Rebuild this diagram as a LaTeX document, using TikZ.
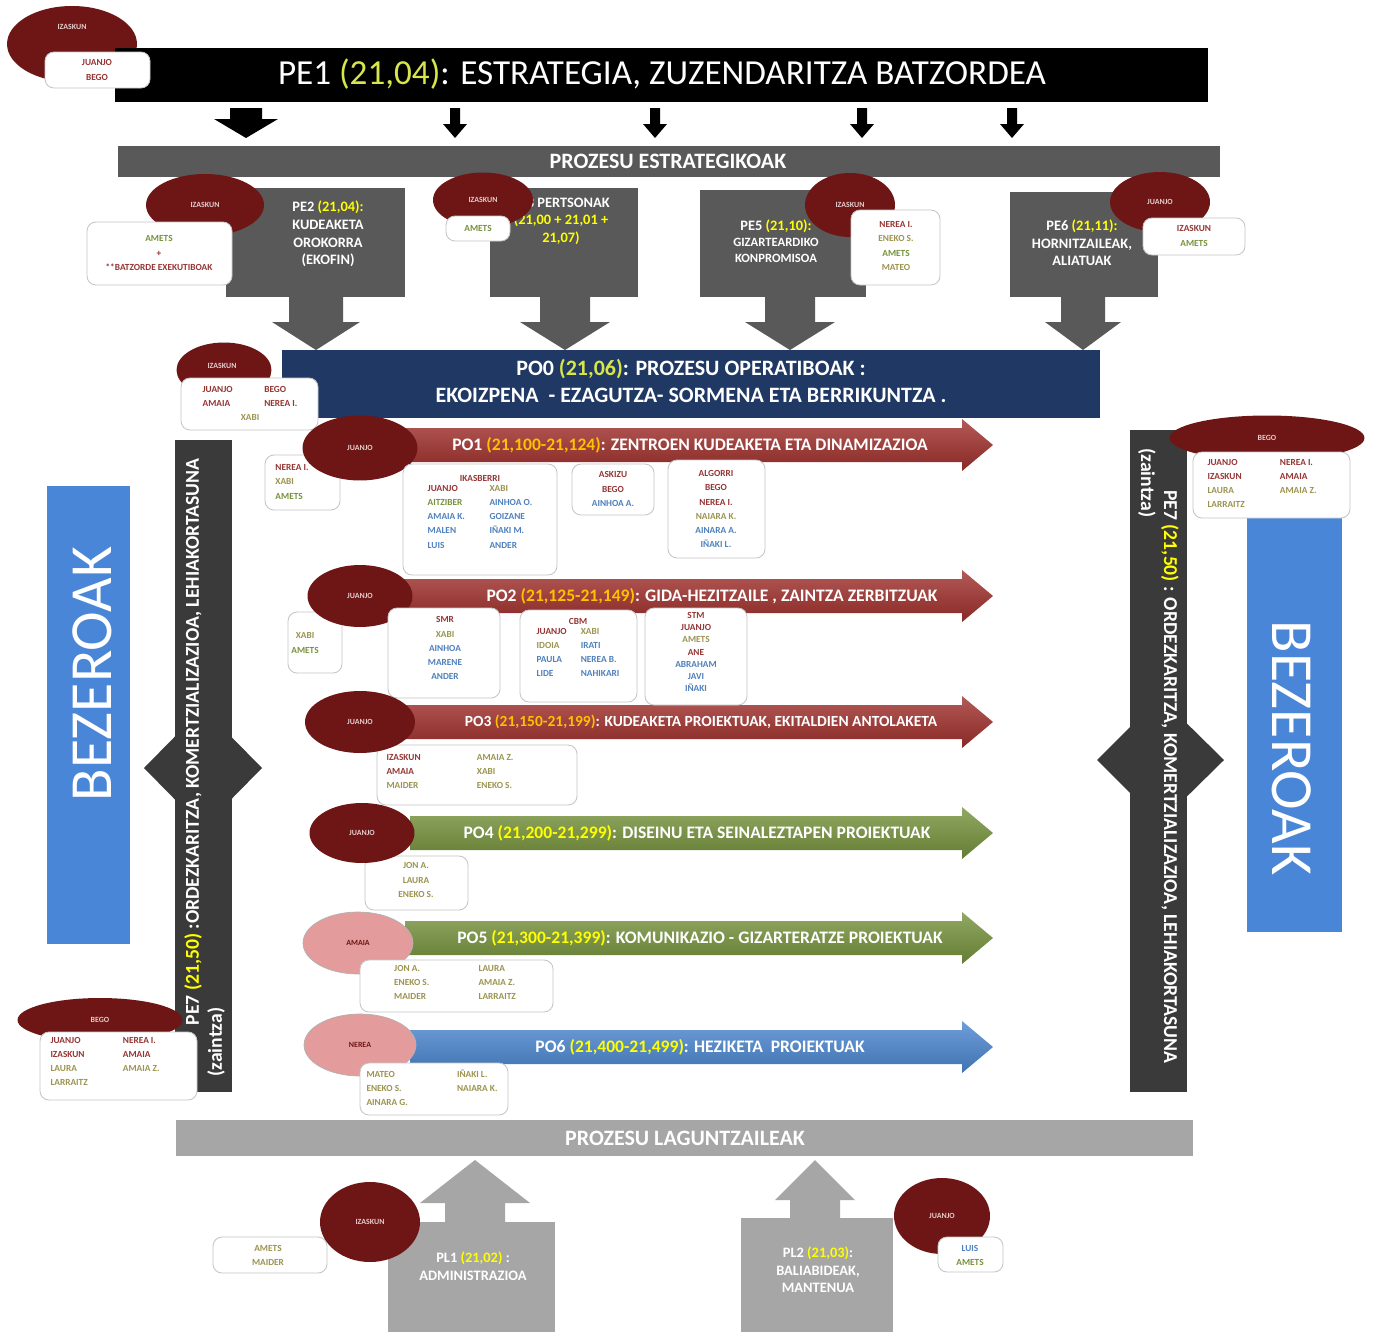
\documentclass[tikz,border=0pt]{standalone}
\usepackage{fontspec}
\setmainfont{Carlito}
\usepackage{tikz}
\usetikzlibrary{shapes,positioning,calc}
\usetikzlibrary{shapes.geometric}

\definecolor{cellred}{HTML}{6E1616}
\definecolor{cpink}{HTML}{E39B9B}
\definecolor{ctred}{HTML}{943634}
\definecolor{ctgreen}{HTML}{76923C}
\definecolor{ctolive}{HTML}{9C9450}
\definecolor{ctblue}{HTML}{4F81BD}
\definecolor{cgray}{HTML}{595959}
\definecolor{cside}{HTML}{3A3A3A}
\definecolor{cnavy}{HTML}{1F3864}
\definecolor{clight}{HTML}{A6A6A6}
\definecolor{cbez}{HTML}{4A86D8}
\definecolor{cyel}{HTML}{FFFF00}
\definecolor{cgold}{HTML}{FFC000}
\definecolor{cpe1}{HTML}{D8E64A}
\definecolor{carred}{HTML}{A0302C}
\definecolor{cargreen}{HTML}{76923C}
\definecolor{carblue}{HTML}{4A86D0}

\newcommand{\nred}[1]{\textcolor{ctred}{#1}}
\newcommand{\ngreen}[1]{\textcolor{ctgreen}{#1}}
\newcommand{\nolive}[1]{\textcolor{ctolive}{#1}}
\newcommand{\nblue}[1]{\textcolor{ctblue}{#1}}

\tikzstyle{redell} = [ellipse, fill=cellred, inner sep=0pt, text=white!75!ctred, font=\bfseries\fontsize{4.5}{5}\selectfont]
\tikzstyle{pinkell} = [ellipse, fill=cpink, draw=gray!60, inner sep=0pt, text=cellred, font=\bfseries\fontsize{4.5}{5}\selectfont]
\tikzstyle{elltext} = [inner sep=0pt, text=white!75!ctred, font=\bfseries\fontsize{4.5}{5}\selectfont]
\tikzstyle{namebox} = [draw=gray!45, fill=white, rounded corners=0.18cm, line width=0.5pt]
\tikzstyle{names} = [inner sep=0pt, align=center, font=\bfseries\fontsize{5.3}{8}\selectfont]
\tikzstyle{petext} = [text=white, align=center, font=\bfseries\fontsize{8.2}{10}\selectfont]
\tikzstyle{potext} = [text=white, font=\bfseries\fontsize{10}{12}\selectfont]
\tikzstyle{bartext} = [text=white, font=\bfseries\fontsize{12.5}{14}\selectfont]
\tikzstyle{sidetext} = [inner sep=0pt, text=white, font=\bfseries\fontsize{11.2}{13}\selectfont]
\tikzstyle{bez} = [inner sep=0pt, text=white, font=\fontsize{34}{40}\selectfont]

\begin{document}
\begin{tikzpicture}[x=0.02cm,y=-0.02cm]
\fill[white] (0,0) rectangle (1376,1332);
\useasboundingbox (0,0) rectangle (1376,1332);

% PE1
\node[redell, minimum width=2.6cm, minimum height=1.52cm] (ell0) at (72,44) {};
\node[elltext] (ell0t) at (72,27) {IZASKUN};
\fill[black] (115,48) rectangle (1208,102);
\node[text=white, font=\fontsize{20}{24}\selectfont] (pe1) at (662,74) {PE1 \textcolor{cpe1}{(21,04)}: ESTRATEGIA, ZUZENDARITZA BATZORDEA};
\draw[namebox] (45,52) rectangle (150,88);
\node[names] (pe1n) at (97,70) {\nred{JUANJO}\\\nred{BEGO}};

\fill[black] (230,108) rectangle (262,119) (214,119) -- (278,119) -- (246,138) -- cycle;
\foreach \ax in {455,655,862,1012}
  \fill[black] (\ax-5,108) rectangle (\ax+5,124) (\ax-12,124) -- (\ax+12,124) -- (\ax,138) -- cycle;

\fill[cgray] (118,146) rectangle (1220,177);
\node[bartext] (estr) at (668,161) {PROZESU ESTRATEGIKOAK};

% PE boxes
\fill[cgray] (226,188) rectangle (405,297);
\fill[cgray] (490,188) rectangle (638,297);
\fill[cgray] (700,190) rectangle (866,297);
\fill[cgray] (1010,192) rectangle (1158,297);
\foreach \cx/\sw/\hw in {316/27/44, 565/25/45, 790/25/45, 1083/22/38}
  \fill[cgray] (\cx-\sw,296) -- (\cx+\sw,296) -- (\cx+\sw,322) -- (\cx+\hw,322) -- (\cx,350) -- (\cx-\hw,322) -- (\cx-\sw,322) -- cycle;

\node[petext] (pe2) at (328,234) {PE2 \textcolor{cyel}{(21,04):}\\KUDEAKETA\\OROKORRA\\(EKOFIN)};
\node[redell, minimum width=2.36cm, minimum height=1.24cm] (pe2e) at (205,205) {IZASKUN};
\draw[namebox] (87,222) rectangle (232,285);
\node[names] (pe2n) at (159,253) {\ngreen{AMETS}\\\nred{+}\\\nred{**BATZORDE EXEKUTIBOAK}};

\node[petext] (pe3) at (561,221) {PE3 PERTSONAK\\\textcolor{cyel}{(21,00 + 21,01 +}\\\textcolor{cyel}{21,07)}};
\node[redell, minimum width=2.0cm, minimum height=1.1cm] (pe3e) at (483,200) {IZASKUN};
\draw[namebox] (446,216) rectangle (510,241);
\node[names] (pe3n) at (478,228) {\ngreen{AMETS}};

\node[petext, font=\bfseries\fontsize{7.2}{9}\selectfont] (pe5) at (776,241) {{\fontsize{8.2}{9}\selectfont PE5 \textcolor{cyel}{(21,10):}}\\GIZARTEARDIKO\\KONPROMISOA};
\node[redell, minimum width=1.8cm, minimum height=1.28cm] (pe5e) at (850,205) {IZASKUN};
\draw[namebox] (851,210) rectangle (940,285);
\node[names] (pe5n) at (896,246) {\nred{NEREA I.}\\\nolive{ENEKO S.}\\\ngreen{AMETS}\\\nolive{MATEO}};

\node[petext] (pe6) at (1082,243) {PE6 \textcolor{cyel}{(21,11):}\\HORNITZAILEAK,\\ALIATUAK};
\node[redell, minimum width=2.0cm, minimum height=1.2cm] (pe6e) at (1160,202) {JUANJO};
\draw[namebox] (1143,218) rectangle (1245,255);
\node[names] (pe6n) at (1194,236) {\nred{IZASKUN}\\\ngreen{AMETS}};

% PO0
\fill[cnavy] (282,350) rectangle (1100,418);
\node[text=white, align=center, font=\bfseries\fontsize{12.5}{15}\selectfont] (po0) at (691,381) {PO0 \textcolor{cpe1}{(21,06)}: PROZESU OPERATIBOAK :\\EKOIZPENA~~- EZAGUTZA- SORMENA ETA BERRIKUNTZA .};
\node[redell, minimum width=1.9cm, minimum height=1.1cm] (po0e) at (224,370) {};
\node[elltext] (po0t) at (222,366) {IZASKUN};
\draw[namebox] (181,378) rectangle (318,430);
\node[names] (po0n) at (250,404) {\begin{tabular}{@{}l@{\hspace{18pt}}l@{}}\nred{JUANJO} & \nred{BEGO}\\ \nred{AMAIA} & \nred{NEREA I.}\\ \multicolumn{2}{c}{\nolive{XABI}}\end{tabular}};

% side bars
\fill[cside] (203,708) -- (262,768) -- (203,828) -- (144,768) -- cycle;
\fill[cside] (175,440) rectangle (232,1092);
\node[sidetext, rotate=90, anchor=east] (pe7l) at (193,458) {PE7 \textcolor{cyel}{(21,50)} :ORDEZKARITZA, KOMERTZIALIZAZIOA, LEHIAKORTASUNA};
\node[sidetext, rotate=90, anchor=west] (pe7lz) at (216,1077) {(zaintza)};

\fill[cside] (1160,697) -- (1224,760) -- (1160,823) -- (1097,760) -- cycle;
\fill[cside] (1130,430) rectangle (1187,1092);
\node[sidetext, rotate=-90, anchor=west] (pe7r) at (1170,490) {PE7 \textcolor{cyel}{(21,50)} : ORDEZKARITZA, KOMERTZIALIZAZIOA, LEHIAKORTASUNA};
\node[sidetext, rotate=-90, anchor=west] (pe7rz) at (1147,448) {(zaintza)};

% bezeroak
\fill[cbez] (47,486) rectangle (130,944);
\node[bez, rotate=90] (bezl) at (92,674) {BEZEROAK};
\fill[cbez] (1247,505) rectangle (1342,932);
\node[bez, rotate=-90] (bezr) at (1292,748) {BEZEROAK};

\node[redell, minimum width=3.3cm, minimum height=0.88cm] (begol) at (100,1020) {BEGO};
\draw[namebox] (40,1032) rectangle (197,1100);
\node[names] (begoln) at (105,1062) {\begin{tabular}{@{}l@{\hspace{20pt}}l@{}}\nred{JUANJO} & \nred{NEREA I.}\\ \nred{IZASKUN} & \nred{AMAIA}\\ \nolive{LAURA} & \nolive{AMAIA Z.}\\ \nolive{LARRAITZ} & \end{tabular}};

\node[redell, minimum width=3.9cm, minimum height=0.9cm] (begor) at (1267,438) {BEGO};
\draw[namebox] (1193,452) rectangle (1350,518);
\node[names] (begorn) at (1262,484) {\begin{tabular}{@{}l@{\hspace{20pt}}l@{}}\nred{JUANJO} & \nred{NEREA I.}\\ \nred{IZASKUN} & \nred{AMAIA}\\ \nolive{LAURA} & \nolive{AMAIA Z.}\\ \nolive{LARRAITZ} & \end{tabular}};

% PO arrows
\foreach \yc/\xs/\col in {445/380/carred, 596/385/carred, 722/400/carred, 833/410/cargreen, 938/405/cargreen, 1047/410/carblue}
  \shade[top color=\col!80!white, bottom color=\col!85!black] (\xs,\yc-17) -- (962,\yc-17) -- (962,\yc-26) -- (993,\yc) -- (962,\yc+26) -- (962,\yc+17) -- (\xs,\yc+17) -- cycle;

\node[potext] (po1) at (690,445) {PO1 \textcolor{cgold}{(21,100-21,124)}: ZENTROEN KUDEAKETA ETA DINAMIZAZIOA};
\node[potext] (po2) at (712,596) {PO2 \textcolor{cgold}{(21,125-21,149)}: GIDA-HEZITZAILE , ZAINTZA ZERBITZUAK};
\node[potext, font=\bfseries\fontsize{8.8}{10}\selectfont] (po3) at (701,722) {PO3 \textcolor{cgold}{(21,150-21,199)}: KUDEAKETA PROIEKTUAK, EKITALDIEN ANTOLAKETA};
\node[potext] (po4) at (697,833) {PO4 \textcolor{cyel}{(21,200-21,299)}: DISEINU ETA SEINALEZTAPEN PROIEKTUAK};
\node[potext] (po5) at (700,938) {PO5 \textcolor{cyel}{(21,300-21,399)}: KOMUNIKAZIO - GIZARTERATZE PROIEKTUAK};
\node[potext] (po6) at (700,1047) {PO6 \textcolor{cyel}{(21,400-21,499)}: HEZIKETA~~PROIEKTUAK};

% PO1
\draw[namebox] (265,455) rectangle (340,510);
\node[names, align=left] (po1n) at (292,482) {\nred{NEREA I.}\\\nolive{XABI}\\\ngreen{AMETS}};
\node[redell, minimum width=2.3cm, minimum height=1.3cm] (po1e) at (360,448) {JUANJO};
\draw[namebox] (403,464) rectangle (557,575);
\node[names] (ikasberri) at (480,514) {\nred{IKASBERRI}\\[-1pt]\begin{tabular}{@{}l@{\hspace{14pt}}l@{}}\nred{JUANJO} & \nolive{XABI}\\ \ngreen{AITZIBER} & \nblue{AINHOA O.}\\ \nblue{AMAIA K.} & \nblue{GOIZANE}\\ \nblue{MALEN} & \nblue{IÑAKI M.}\\ \nblue{LUIS} & \nblue{ANDER}\end{tabular}};
\draw[namebox] (572,464) rectangle (654,515);
\node[names] (askizu) at (613,489) {\nred{ASKIZU}\\\nred{BEGO}\\\nblue{AINHOA A.}};
\draw[namebox] (668,460) rectangle (765,558);
\node[names] (algorri) at (716,509) {\nred{ALGORRI}\\\nred{BEGO}\\\nred{NEREA I.}\\\nolive{NAIARA K.}\\\nblue{AINARA A.}\\\nblue{IÑAKI L.}};

% PO2
\draw[namebox] (288,612) rectangle (342,673);
\node[names] (po2n) at (305,643) {\nolive{XABI}\\\ngreen{AMETS}};
\node[redell, minimum width=2.1cm, minimum height=1.24cm] (po2e) at (360,596) {JUANJO};
\draw[namebox] (388,608) rectangle (500,698);
\node[names] (smr) at (445,648) {\nred{SMR}\\\nolive{XABI}\\\nblue{AINHOA}\\\nblue{MARENE}\\\nblue{ANDER}};
\draw[namebox] (520,610) rectangle (637,702);
\node[names] (cbm) at (578,650) {\nred{CBM}\\[-1pt]\begin{tabular}{@{}l@{\hspace{8pt}}l@{}}\nred{JUANJO} & \nolive{XABI}\\ \nolive{IDOIA} & \nblue{IRATI}\\ \nblue{PAULA} & \nblue{NEREA B.}\\ \nblue{LIDE} & \nblue{NAHIKARI}\end{tabular}};
\draw[namebox] (645,608) rectangle (747,705);
\node[names, font=\bfseries\fontsize{5.3}{7}\selectfont] (stm) at (696,652) {\nred{STM}\\\nred{JUANJO}\\\nolive{AMETS}\\\nred{ANE}\\\nblue{ABRAHAM}\\\nblue{JAVI}\\\nblue{IÑAKI}};

% PO3
\draw[namebox] (377,745) rectangle (577,805);
\node[names] (po3n) at (450,772) {\begin{tabular}{@{}l@{\hspace{32pt}}l@{}}\nred{IZASKUN} & \nolive{AMAIA Z.}\\ \nred{AMAIA} & \nolive{XABI}\\ \nolive{MAIDER} & \nolive{ENEKO S.}\end{tabular}};
\node[redell, minimum width=2.2cm, minimum height=1.24cm] (po3e) at (360,722) {JUANJO};

% PO4
\draw[namebox] (365,856) rectangle (468,910);
\node[names] (po4n) at (416,880) {\nolive{JON A.}\\\nolive{LAURA}\\\nolive{ENEKO S.}};
\node[redell, minimum width=2.1cm, minimum height=1.2cm] (po4e) at (362,833) {JUANJO};

% PO5
\node[pinkell, minimum width=2.2cm, minimum height=1.24cm] (po5e) at (358,943) {AMAIA};
\draw[namebox] (360,960) rectangle (553,1012);
\node[names] (po5n) at (455,983) {\begin{tabular}{@{}l@{\hspace{28pt}}l@{}}\nolive{JON A.} & \nolive{LAURA}\\ \nolive{ENEKO S.} & \nolive{AMAIA Z.}\\ \nolive{MAIDER} & \nolive{LARRAITZ}\end{tabular}};

% PO6
\node[pinkell, minimum width=2.24cm, minimum height=1.24cm] (po6e) at (360,1045) {NEREA};
\draw[namebox] (360,1063) rectangle (508,1115);
\node[names] (po6n) at (432,1089) {\begin{tabular}{@{}l@{\hspace{28pt}}l@{}}\nolive{MATEO} & \nolive{IÑAKI L.}\\ \nolive{ENEKO S.} & \nolive{NAIARA K.}\\ \nolive{AINARA G.} & \end{tabular}};

% laguntzaileak
\fill[clight] (176,1120) rectangle (1193,1156);
\node[bartext] (lag) at (685,1138) {PROZESU LAGUNTZAILEAK};

\fill[clight] (388,1222) rectangle (555,1332);
\fill[clight] (445,1223) -- (445,1203) -- (420,1203) -- (475,1160) -- (530,1203) -- (505,1203) -- (505,1223) -- cycle;
\node[petext] (pl1) at (473,1266) {PL1 \textcolor{cyel}{(21,02)} :\\ADMINISTRAZIOA};
\draw[namebox] (213,1237) rectangle (327,1273);
\node[names] (pl1n) at (268,1255) {\nolive{AMETS}\\\nolive{MAIDER}};
\node[redell, minimum width=2.0cm, minimum height=1.6cm] (pl1e) at (370,1222) {IZASKUN};

\fill[clight] (741,1218) rectangle (893,1332);
\fill[clight] (790,1219) -- (790,1200) -- (775,1200) -- (815,1160) -- (855,1200) -- (840,1200) -- (840,1219) -- cycle;
\node[petext] (pl2) at (818,1270) {PL2 \textcolor{cyel}{(21,03)}:\\BALIABIDEAK,\\MANTENUA};
\node[redell, minimum width=1.92cm, minimum height=1.52cm] (pl2e) at (942,1216) {JUANJO};
\draw[namebox] (938,1237) rectangle (1003,1272);
\node[names] (pl2n) at (970,1255) {\nblue{LUIS}\\\ngreen{AMETS}};

\end{tikzpicture}
\end{document}
